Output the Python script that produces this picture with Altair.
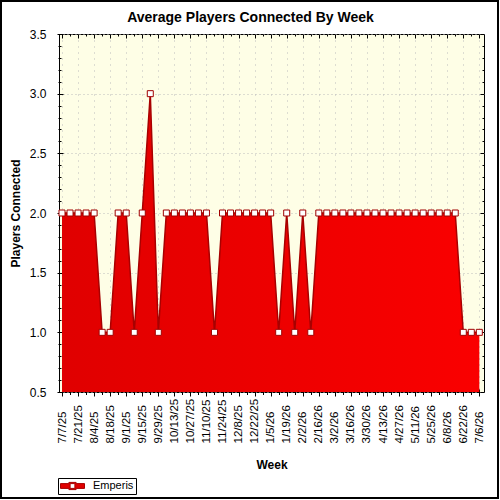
import altair as alt
import pandas as pd

# Weekly averages of connected players
weeks = [
    "2025-07-07", "2025-07-14", "2025-07-21", "2025-07-28", "2025-08-04",
    "2025-08-11", "2025-08-18", "2025-08-25", "2025-09-01", "2025-09-08",
    "2025-09-15", "2025-09-22", "2025-09-29", "2025-10-06", "2025-10-13",
    "2025-10-20", "2025-10-27", "2025-11-03", "2025-11-10", "2025-11-17",
    "2025-11-24", "2025-12-01", "2025-12-08", "2025-12-15", "2025-12-22",
    "2025-12-29", "2026-01-05", "2026-01-12", "2026-01-19", "2026-01-26",
    "2026-02-02", "2026-02-09", "2026-02-16", "2026-02-23", "2026-03-02",
    "2026-03-09", "2026-03-16", "2026-03-23", "2026-03-30", "2026-04-06",
    "2026-04-13", "2026-04-20", "2026-04-27", "2026-05-04", "2026-05-11",
    "2026-05-18", "2026-05-25", "2026-06-01", "2026-06-08", "2026-06-15",
    "2026-06-22", "2026-06-29", "2026-07-06",
]
players = [
    2.0, 2.0, 2.0, 2.0, 2.0, 1.0, 1.0, 2.0, 2.0, 1.0,
    2.0, 3.0, 1.0, 2.0, 2.0, 2.0, 2.0, 2.0, 2.0, 1.0,
    2.0, 2.0, 2.0, 2.0, 2.0, 2.0, 2.0, 1.0, 2.0, 1.0,
    2.0, 1.0, 2.0, 2.0, 2.0, 2.0, 2.0, 2.0, 2.0, 2.0,
    2.0, 2.0, 2.0, 2.0, 2.0, 2.0, 2.0, 2.0, 2.0, 2.0,
    1.0, 1.0, 1.0,
]
series_name = "Emperis"

df = pd.DataFrame({"week": weeks, "players": players, "series": series_name})


def to_ms(s):
    return int(pd.Timestamp(s, tz="UTC").value // 10**6)


# Tick positions: labelled ticks every two weeks, minor ticks in between
week_ms = [to_ms(w) for w in weeks]
x_major = week_ms[0::2]
x_minor = week_ms[1::2]
x_domain = [to_ms("2025-07-04 09:00"), to_ms("2026-07-10 02:00")]

y_major = [0.5, 1.0, 1.5, 2.0, 2.5, 3.0, 3.5]
y_minor = [round(0.5 + 0.1 * i, 1) for i in range(31)]
y_minor = [v for v in y_minor if v not in y_major]
y_floor = 0.5

MAJOR_X = "round((datum.value - utc(2025, 6, 7)) / 604800000) % 2 == 0"
MAJOR_Y = "abs(datum.value * 2 - round(datum.value * 2)) < 0.001"

FONT = "Liberation Sans"
W, H = 425, 358

x_scale = alt.Scale(type="utc", domain=x_domain)
y_scale = alt.Scale(domain=[0.5, 3.5], nice=False, zero=False)

base = alt.Chart(df)

# Filled area with the main (labelled) axes and grid
area = base.mark_area(
    interpolate="linear",
    fill=alt.Gradient(
        gradient="linear",
        stops=[alt.GradientStop(color="#E00000", offset=0),
               alt.GradientStop(color="#FA0000", offset=1)],
        x1=0, x2=1, y1=0, y2=0,
    ),
).encode(
    x=alt.X("week:T", scale=x_scale, axis=alt.Axis(
        orient="bottom", values=x_major, format="%-m/%-d/%y",
        labelAngle=270, labelAlign="left", labelBaseline="middle",
        labelPadding=47, labelOverlap=False, labelFlush=False,
        labelFontSize=11.5, offset=-3, tickSize=7, domain=False,
        grid=True, gridColor="#BDBDBD", gridDash=[1, 5],
        title="Week", titleFontSize=12, titleFontWeight="bold",
        titleY=79, titleBaseline="alphabetic",
    )),
    y=alt.Y("players:Q", scale=y_scale, axis=alt.Axis(
        orient="left", values=y_major, format=".1f",
        labelPadding=11, labelOverlap=False, labelFontSize=12,
        offset=-4, tickSize=6, domain=False,
        grid=True, gridColor="#BDBDBD", gridDash=[1, 3],
        title="Players Connected", titleFontSize=12, titleFontWeight="bold",
        titleAngle=270, titleX=-44, titleBaseline="alphabetic",
    )),
    y2=alt.datum(y_floor),
)

# Dark red outline, carries the legend and the minor ticks
line = base.mark_line(strokeWidth=1.5).encode(
    x=alt.X("week:T", scale=x_scale, axis=alt.Axis(
        orient="bottom", values=x_minor, labels=False, domain=False,
        offset=-1.5, tickSize=4, grid=False, title=None,
    )),
    y=alt.Y("players:Q", scale=y_scale, axis=alt.Axis(
        orient="left", values=y_minor, labels=False, domain=False,
        offset=-2, tickSize=3, grid=False, title=None,
    )),
    color=alt.Color("series:N", scale=alt.Scale(range=["#A80000"]), legend=alt.Legend(
        orient="none", legendX=-1, legendY=444, title=None,
        symbolType="M-1,-0.2H-0.3V-0.3H0.3V-0.2H1V0.2H0.3V0.3H-0.3V0.2H-1Z"
                   "M-0.2,-0.2V0.2H0.2V-0.2Z",
        symbolSize=576, symbolFillColor="#E00000", symbolStrokeWidth=1,
        clipHeight=12, labelFont=FONT, labelFontSize=11, labelColor="black",
        labelOffset=8, padding=2, strokeColor="black", fillColor="white",
        cornerRadius=0,
    )),
)

# Square markers, with the inward ticks along the top and right edges
points = base.mark_point(
    shape="square", filled=True, fill="white", stroke="#A00000",
    strokeWidth=1, size=36, opacity=1,
).encode(
    x=alt.X("week:T", scale=x_scale, axis=alt.Axis(
        orient="bottom", values=week_ms, labels=False, domain=False,
        offset=-H, grid=False, title=None,
        tickSize={"condition": {"test": MAJOR_X, "value": 4}, "value": 2},
    )),
    y=alt.Y("players:Q", scale=y_scale, axis=alt.Axis(
        orient="left", values=sorted(y_major + y_minor), labels=False,
        domain=False, offset=-W, grid=False, title=None,
        tickSize={"condition": {"test": MAJOR_Y, "value": 4}, "value": 2},
    )),
)

# Outer frame of the figure
frame = alt.Chart(alt.Data(values=[{"f": 0}])).mark_rect(
    filled=False, stroke="black", strokeWidth=2,
).encode(
    x=alt.value(-58), x2=alt.value(439), y=alt.value(-33), y2=alt.value(464),
)

chart = alt.layer(area, line, points, frame).resolve_axis(
    x="independent", y="independent"
).properties(
    width=W, height=H,
    autosize=alt.AutoSizeParams(type="none"),
    padding={"left": 59, "top": 34, "right": 16, "bottom": 108},
    background="white",
    title=alt.TitleParams(
        "Average Players Connected By Week", font=FONT, fontSize=14,
        fontWeight="bold", color="black", anchor="middle", frame="group",
        baseline="alphabetic", offset=0, dx=-21, dy=36,
    ),
).configure_view(
    stroke="black", strokeWidth=1, fill="#FEFEE6",
).configure_axis(
    labelFont=FONT, labelColor="black", titleFont=FONT, titleColor="black",
    tickColor="black", tickWidth=1,
)

chart.save("out.html", embed_options={"renderer": "svg", "actions": False})
